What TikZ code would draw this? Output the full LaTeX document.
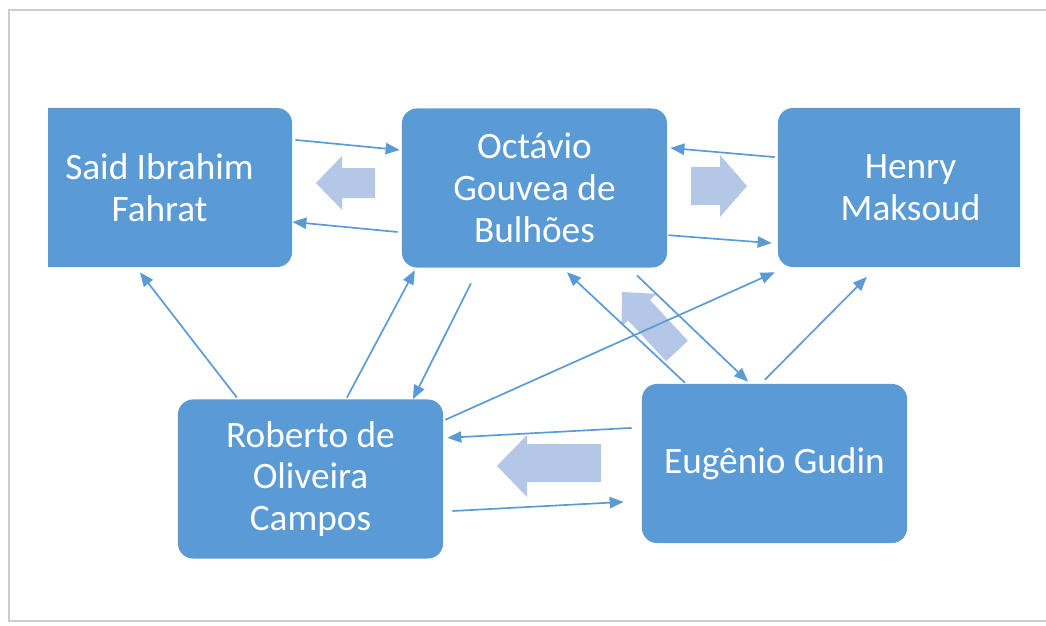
\documentclass[tikz,border=0pt]{standalone}
\usepackage{fontspec}
\setmainfont{Carlito}
\usetikzlibrary{arrows.meta}

\definecolor{boxblue}{RGB}{91,155,213}
\definecolor{arrowfill}{RGB}{180,199,231}
\definecolor{framegray}{RGB}{205,205,205}

\tikzset{
  box/.style={fill=boxblue, rounded corners=0.375cm, minimum width=6.625cm,
    minimum height=3.975cm, inner sep=0pt, text=white, align=center,
    font=\fontsize{26.5}{29.8}\selectfont},
  link/.style={draw=boxblue, line width=1.2pt, -{Triangle[length=10pt,width=8pt]}},
  bigarrow/.style={fill=arrowfill}
}

\begin{document}
\begin{tikzpicture}[x=0.025cm,y=-0.025cm]
    \useasboundingbox (0,0) rectangle (1046,625);
    \draw[framegray, line width=2pt] (1046,10) -- (9,10) -- (9,621) -- (1046,621);

    \begin{scope}
        \clip (48,0) rectangle (1020,625);
        \node[box] (said) at (159.5,187.5) {Said Ibrahim\\Fahrat};
        \node[box] (henry) at (910.5,187.5) {Henry\\Maksoud};
    \end{scope}
    \node[box] (octavio) at (534.5,188) {Octávio\\Gouvea de\\Bulhões};
    \node[box] (roberto) at (310.5,479) {Roberto de\\Oliveira\\Campos};
    \node[box] (eugenio) at (774.5,463.5) {Eugênio Gudin};

    \fill[bigarrow] (316,183) -- (342,156) -- (342,168) -- (375,168) -- (375,198) -- (342,198) -- (342,210) -- cycle;
    \fill[bigarrow] (747,186) -- (720,155) -- (720,167) -- (691,167) -- (691,205) -- (720,205) -- (720,217) -- cycle;
    \fill[bigarrow] (497,466) -- (527,435) -- (527,444) -- (601,444) -- (601,482) -- (527,482) -- (527,497) -- cycle;
    \fill[bigarrow] (622,292) -- (656.5,293.9) -- (649.9,300) -- (687.9,340.8) -- (666.1,361.2) -- (628.1,320.4) -- (621.5,326.5) -- cycle;

    \draw[link] ([xshift=0.075cm,yshift=1.19cm]said.east) -- ([xshift=-0.05cm,yshift=0.95cm]octavio.west);
    \draw[link] ([xshift=-0.1cm,yshift=-1.1cm]octavio.west) -- ([yshift=-0.86cm]said.east);
    \draw[link] ([xshift=-0.075cm,yshift=0.76cm]henry.west) -- ([xshift=0.075cm,yshift=1.0cm]octavio.east);
    \draw[link] ([xshift=0.025cm,yshift=-1.18cm]octavio.east) -- ([xshift=-0.15cm,yshift=-1.39cm]henry.west);
    \draw[link] ([xshift=-1.84cm,yshift=0.04cm]roberto.north) -- ([xshift=-0.49cm,yshift=-0.125cm]said.south);
    \draw[link] ([xshift=0.91cm,yshift=0.04cm]roberto.north) -- ([xshift=-2.99cm,yshift=-0.06cm]octavio.south);
    \draw[link] ([xshift=-1.59cm,yshift=-0.39cm]octavio.south) -- ([xshift=2.56cm]roberto.north);
    \draw[link] ([xshift=0.05cm,yshift=1.48cm]roberto.east) -- ([xshift=-0.075cm,yshift=-0.125cm]henry.south west);
    \draw[link] ([xshift=-2.24cm,yshift=0.025cm]eugenio.north) -- ([xshift=0.81cm,yshift=-0.11cm]octavio.south);
    \draw[link] ([xshift=2.56cm,yshift=-0.19cm]octavio.south) -- ([xshift=-0.66cm,yshift=0.05cm]eugenio.north);
    \draw[link] ([xshift=-0.24cm,yshift=0.1cm]eugenio.north) -- ([xshift=-1.09cm,yshift=-0.24cm]henry.south);
    \draw[link] ([xshift=-0.25cm,yshift=0.89cm]eugenio.west) -- ([xshift=0.1cm,yshift=1.03cm]roberto.east);
    \draw[link] ([xshift=0.225cm,yshift=-0.8cm]roberto.east) -- ([xshift=-0.45cm,yshift=-0.96cm]eugenio.west);
\end{tikzpicture}
\end{document}
